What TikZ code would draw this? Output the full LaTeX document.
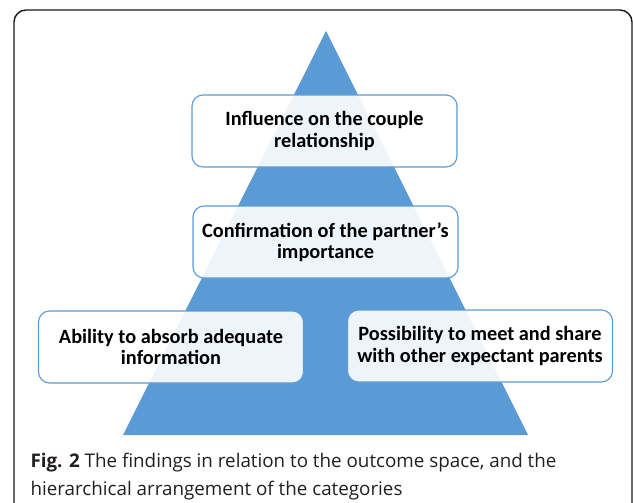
\documentclass[tikz,border=0pt]{standalone}
\usepackage{fontspec}
\setmainfont{Carlito}
\newfontfamily\capfont{Open Sans}
\usepackage{tikz}

\definecolor{pyrblue}{HTML}{5B9BD5}
\definecolor{capgray}{HTML}{231F20}

\begin{document}
\begin{tikzpicture}[x=1pt, y=-1pt, every node/.style={rectangle,
                            rounded corners=11pt, draw=pyrblue, line width=1.1pt,
                            fill=white, fill opacity=0.9, text opacity=1,
                            minimum width=265pt, minimum height=72pt,
                            align=center, font=\fontsize{20.3}{21.5}\selectfont\bfseries}]
                \useasboundingbox (0,0) rectangle (633,503);
                % frame round the figure
                \draw[rounded corners=12pt, line width=1.4pt, draw=black!90] (14,10) rectangle (632,530);

                % pyramid
                \coordinate (T1) at (326,31);
                \coordinate (T2) at (123,435);
                \coordinate (T3) at (528,435);
                \fill[pyrblue] (T1) -- (T2) -- (T3) -- cycle;

                \foreach \i/\x/\y/\t in {1/324.5/131/{Influence on the couple\\relationship},
                        2/325.5/242/{Confirmation of the partner's\\importance},
                        3/171/347/{Ability to absorb adequate\\information},
                        4/480/346/{Possibility to meet and share\\with other expectant parents}} {
                        \node (B\i) at (\x,\y) {\t};
                    }

                \node[draw=none, fill=none, rounded corners=0pt, minimum width=0pt,
                      minimum height=0pt, inner sep=0pt, anchor=base west, align=left,
                      text=capgray, font=\capfont\fontsize{18.8}{28}\selectfont]
                      (Cap) at (30,495) {{\bfseries Fig. 2} The findings in relation to the outcome space, and the\\hierarchical arrangement of the categories};
            \end{tikzpicture}
\end{document}
